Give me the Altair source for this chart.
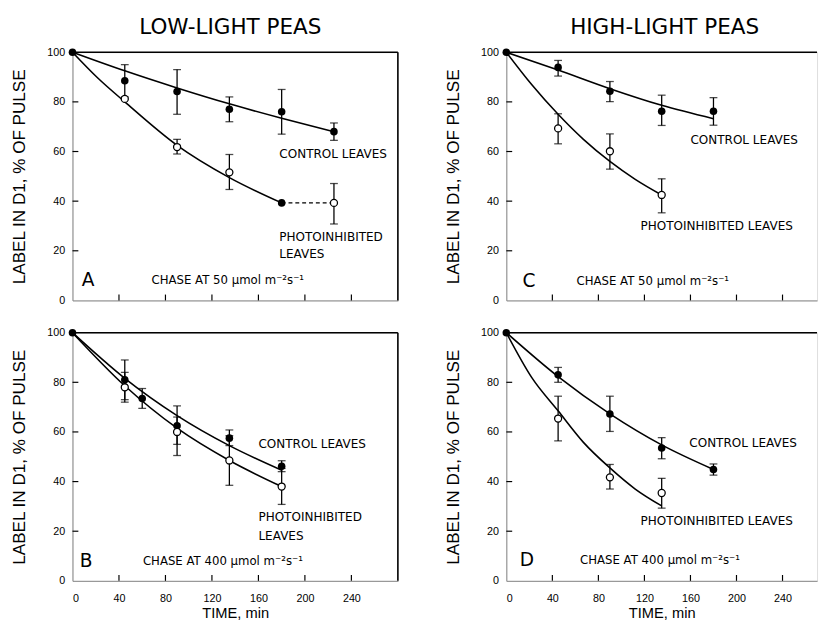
import altair as alt
import pandas as pd

FONT = "DejaVu Sans"

# ---------------- data ----------------
# Panel A: low-light peas, chase at 50
A_ctrl_t = [0, 45, 90, 135, 180, 225]
A_ctrl_v = [100, 88.5, 84.2, 77, 76, 68]
A_ctrl_lo = [None, 82, 75, 72, 67, 64.5]
A_ctrl_hi = [None, 95, 93, 82, 85, 71.5]
A_photo_t = [45, 90, 135, 180, 225]
A_photo_v = [81.2, 61.8, 51.6, 39.3, 39.3]
A_photo_lo = [None, 59, 44.7, None, 30.8]
A_photo_hi = [None, 64.9, 58.8, None, 47.1]
A_photo_filled = [False, False, False, True, False]
A_ctrl_fit_t = [0, 45, 90, 135, 180, 225]
A_ctrl_fit_v = [100, 92.5, 85.6, 79.2, 73.4, 68]
A_photo_fit_t = [0, 22, 45, 90, 135, 180]
A_photo_fit_v = [100, 89.5, 80, 62.5, 49.5, 39.3]
A_dash_t = [180, 225]
A_dash_v = [39.3, 39.3]

# Panel B: low-light peas, chase at 400
B_ctrl_t = [0, 45, 60, 90, 135, 180]
B_ctrl_v = [100, 81, 73.5, 62.5, 57.5, 46.2]
B_ctrl_lo = [None, 73, 69.5, 55, 54.5, 44]
B_ctrl_hi = [None, 89, 77.5, 70.5, 60.8, 48.4]
B_photo_t = [45, 90, 135, 180]
B_photo_v = [78, 60, 48.5, 38]
B_photo_lo = [72, 50.5, 38.5, 30.8]
B_photo_hi = [84, 66, 58.5, 45.3]
B_photo_filled = [False, False, False, False]
B_ctrl_fit_t = [0, 45, 90, 135, 180]
B_ctrl_fit_v = [100, 81.6, 66.6, 54.5, 44.6]
B_photo_fit_t = [0, 45, 90, 135, 180]
B_photo_fit_v = [100, 78.6, 61.5, 48.5, 38]

# Panel C: high-light peas, chase at 50
C_ctrl_t = [0, 45, 90, 135, 180]
C_ctrl_v = [100, 93.9, 84.3, 76.2, 76.2]
C_ctrl_lo = [None, 90.4, 80.1, 70.5, 70.6]
C_ctrl_hi = [None, 96.7, 88.2, 82.7, 81.7]
C_photo_t = [45, 90, 135]
C_photo_v = [69.3, 60.1, 42.5]
C_photo_lo = [63.1, 52.9, 35.3]
C_photo_hi = [75.2, 67.1, 49]
C_photo_filled = [False, False, False]
C_ctrl_fit_t = [0, 45, 90, 135, 180]
C_ctrl_fit_v = [100, 92.8, 85.3, 78.6, 73.2]
C_photo_fit_t = [0, 22, 45, 67, 90, 112, 135]
C_photo_fit_v = [100, 87, 75, 64.9, 56, 48.8, 42.5]

# Panel D: high-light peas, chase at 400
D_ctrl_t = [0, 45, 90, 135, 180]
D_ctrl_v = [100, 83, 67.2, 53.5, 44.9]
D_ctrl_lo = [None, 80, 60.2, 49.2, 42.6]
D_ctrl_hi = [None, 86, 74.4, 57.7, 47.1]
D_photo_t = [45, 90, 135]
D_photo_v = [65.4, 41.7, 35.4]
D_photo_lo = [56.4, 37, 29.3]
D_photo_hi = [74.4, 46.9, 41.3]
D_photo_filled = [False, False, False]
D_ctrl_fit_t = [0, 45, 90, 135, 180]
D_ctrl_fit_v = [100, 82.3, 67.3, 54.8, 44.9]
D_photo_fit_t = [0, 22, 45, 67, 90, 112, 135]
D_photo_fit_v = [100, 82, 68.5, 55.8, 45.5, 37, 30.2]

X_TICKS = [0, 40, 80, 120, 160, 200, 240]
X_INNER_TICKS = [40, 80, 120, 160, 200, 240]
Y_TICKS = [0, 20, 40, 60, 80, 100]
Y_INNER_TICKS = [20, 40, 60, 80]

COL_TITLES = ["LOW-LIGHT PEAS", "HIGH-LIGHT PEAS"]
Y_TITLE = "LABEL IN D1, % OF PULSE"
X_TITLE = "TIME, min"

# annotation labels: (text, t, value, size, align)
ANN = {
    "A": [("CONTROL LEAVES", 178, 59, 12.3, "left"),
          ("PHOTOINHIBITED", 178, 25.6, 12.3, "left"),
          ("LEAVES", 178, 18.5, 12.3, "left"),
          ("A", 13.5, 8.3, 19, "center"),
          ("CHASE AT 50 μmol m⁻²s⁻¹", 68, 8.3, 12, "left")],
    "B": [("CONTROL LEAVES", 160, 55, 12.3, "left"),
          ("PHOTOINHIBITED", 160, 25.6, 12.3, "left"),
          ("LEAVES", 160, 18.1, 12.3, "left"),
          ("B", 11.8, 7.9, 19, "center"),
          ("CHASE AT 400 μmol m⁻²s⁻¹", 60.6, 7.9, 12, "left")],
    "C": [("CONTROL LEAVES", 160, 64.7, 12.3, "left"),
          ("PHOTOINHIBITED LEAVES", 116.6, 29.8, 12.3, "left"),
          ("C", 19.6, 7.8, 19, "center"),
          ("CHASE AT 50 μmol m⁻²s⁻¹", 61, 7.8, 12, "left")],
    "D": [("CONTROL LEAVES", 159, 55.5, 12.3, "left"),
          ("PHOTOINHIBITED LEAVES", 116.6, 24, 12.3, "left"),
          ("D", 17.9, 8.3, 19, "center"),
          ("CHASE AT 400 μmol m⁻²s⁻¹", 64, 8.3, 12, "left")],
}

G = globals()
H = 254
# left column shows 0-280 min; right column is cut by the page edge
COL_W = {"A": 333, "B": 333, "C": 318, "D": 318}
COL_XMAX = {"A": 280, "B": 280, "C": 270, "D": 270}
TITLE_DX = {"A": -5, "C": 3}


def panel(key, bottom, title=None):
    W = COL_W[key]
    xmax = COL_XMAX[key]
    pts = []
    for t, v in zip(G[key + "_ctrl_t"], G[key + "_ctrl_v"]):
        pts.append({"t": t, "v": v, "filled": True})
    for t, v, f in zip(G[key + "_photo_t"], G[key + "_photo_v"], G[key + "_photo_filled"]):
        pts.append({"t": t, "v": v, "filled": f})
    pts = pd.DataFrame(pts)

    err = []
    for s in ("ctrl", "photo"):
        for t, lo, hi in zip(G[f"{key}_{s}_t"], G[f"{key}_{s}_lo"], G[f"{key}_{s}_hi"]):
            if lo is not None:
                err.append({"t": t, "lo": lo, "hi": hi})
    err = pd.DataFrame(err)

    fit = []
    for s in ("ctrl", "photo"):
        for t, v in zip(G[f"{key}_{s}_fit_t"], G[f"{key}_{s}_fit_v"]):
            fit.append({"t": t, "v": v, "s": s})
    fit = pd.DataFrame(fit)

    xs = alt.Scale(domain=[0, xmax], nice=False, zero=False)
    ys = alt.Scale(domain=[0, 100], nice=False)
    xax = alt.Axis(values=X_TICKS, grid=False, ticks=True, tickSize=0,
                   labels=bottom, labelPadding=12, labelFontSize=11,
                   title=X_TITLE if bottom else None, titlePadding=3,
                   titleFontSize=15, titleFontWeight="normal")
    yax = alt.Axis(values=Y_TICKS, grid=False, ticks=True, tickSize=0,
                   labelPadding=8, labelFontSize=11,
                   title=Y_TITLE, titlePadding=19, titleFontSize=17.5,
                   titleFontWeight="normal")

    base_x = alt.X("t:Q", scale=xs, axis=xax)
    base_y = alt.Y("v:Q", scale=ys, axis=yax)

    lines = alt.Chart(fit).mark_line(color="black", strokeWidth=1.6,
                                      interpolate="monotone").encode(
        x=base_x, y=base_y, detail="s:N")
    layers = [lines]

    if key == "A":
        dash = pd.DataFrame({"t": A_dash_t, "v": A_dash_v})
        layers.append(alt.Chart(dash).mark_line(color="black", strokeWidth=1.3,
                                                strokeDash=[4, 3]).encode(
            x=alt.X("t:Q", scale=xs), y=alt.Y("v:Q", scale=ys)))

    layers.append(alt.Chart(err).mark_rule(color="black", strokeWidth=1.3).encode(
        x=alt.X("t:Q", scale=xs), y=alt.Y("lo:Q", scale=ys), y2="hi:Q"))
    for c in ("lo", "hi"):
        layers.append(alt.Chart(err).mark_tick(color="black", orient="horizontal",
                                               size=8, thickness=1.3).encode(
            x=alt.X("t:Q", scale=xs), y=alt.Y(f"{c}:Q", scale=ys)))

    layers.append(alt.Chart(pts).transform_filter("datum.filled").mark_point(
        filled=True, color="black", size=60, opacity=1).encode(
        x=alt.X("t:Q", scale=xs), y=alt.Y("v:Q", scale=ys)))
    layers.append(alt.Chart(pts).transform_filter("!datum.filled").mark_point(
        filled=True, fill="white", stroke="black", strokeWidth=1.3, size=52,
        opacity=1).encode(
        x=alt.X("t:Q", scale=xs), y=alt.Y("v:Q", scale=ys)))

    # inward ticks
    xt = pd.DataFrame({"t": X_INNER_TICKS})
    layers.append(alt.Chart(xt).mark_rule(color="black", strokeWidth=1.2).encode(
        x=alt.X("t:Q", scale=xs), y=alt.value(H), y2=alt.value(H - 6)))
    yt = pd.DataFrame({"v": Y_INNER_TICKS})
    layers.append(alt.Chart(yt).mark_rule(color="black", strokeWidth=1.2).encode(
        y=alt.Y("v:Q", scale=ys), x=alt.value(0), x2=alt.value(6)))

    # frame: top edge (and right edge where it is inside the page)
    layers.append(alt.Chart(pd.DataFrame({"v": [100]})).mark_rule(
        color="black", strokeWidth=1.6).encode(
        y=alt.Y("v:Q", scale=ys), x=alt.value(0), x2=alt.value(W)))
    if key in ("A", "B"):
        layers.append(alt.Chart(pd.DataFrame({"t": [280]})).mark_rule(
            color="black", strokeWidth=1.6).encode(
            x=alt.X("t:Q", scale=xs), y=alt.value(0), y2=alt.value(H)))

    ann = pd.DataFrame([{"txt": a[0], "t": a[1], "v": a[2], "fs": a[3], "al": a[4]}
                        for a in ANN[key]])
    for fs, al in sorted(set(zip(ann["fs"], ann["al"]))):
        sub = ann[(ann["fs"] == fs) & (ann["al"] == al)]
        layers.append(alt.Chart(sub).mark_text(font=FONT, fontSize=fs, align=al,
                                               baseline="middle", color="black").encode(
            x=alt.X("t:Q", scale=xs), y=alt.Y("v:Q", scale=ys), text="txt:N"))

    if title:
        layers.append(alt.Chart(pd.DataFrame({"txt": [title]})).mark_text(
            font=FONT, fontSize=22, align="center", baseline="middle",
            color="black").encode(
            x=alt.value(W / 2 + TITLE_DX[key]), y=alt.value(-26), text="txt:N"))

    return alt.layer(*layers).properties(width=W, height=H)


col1 = alt.vconcat(panel("A", False, COL_TITLES[0]), panel("B", True), spacing=20)
col2 = alt.vconcat(panel("C", False, COL_TITLES[1]), panel("D", True), spacing=20)

chart = alt.hconcat(col1, col2, spacing=45).properties(
    padding={"left": 2, "top": 0, "right": 0, "bottom": 0}
).configure_view(stroke=None).configure_axis(
    domainColor="black", domainWidth=1.6, labelColor="black", titleColor="black",
    labelFont=FONT, titleFont=FONT, tickColor="black"
).configure(background="white")

chart.save("out.html", embed_options={"renderer": "svg", "actions": False})
